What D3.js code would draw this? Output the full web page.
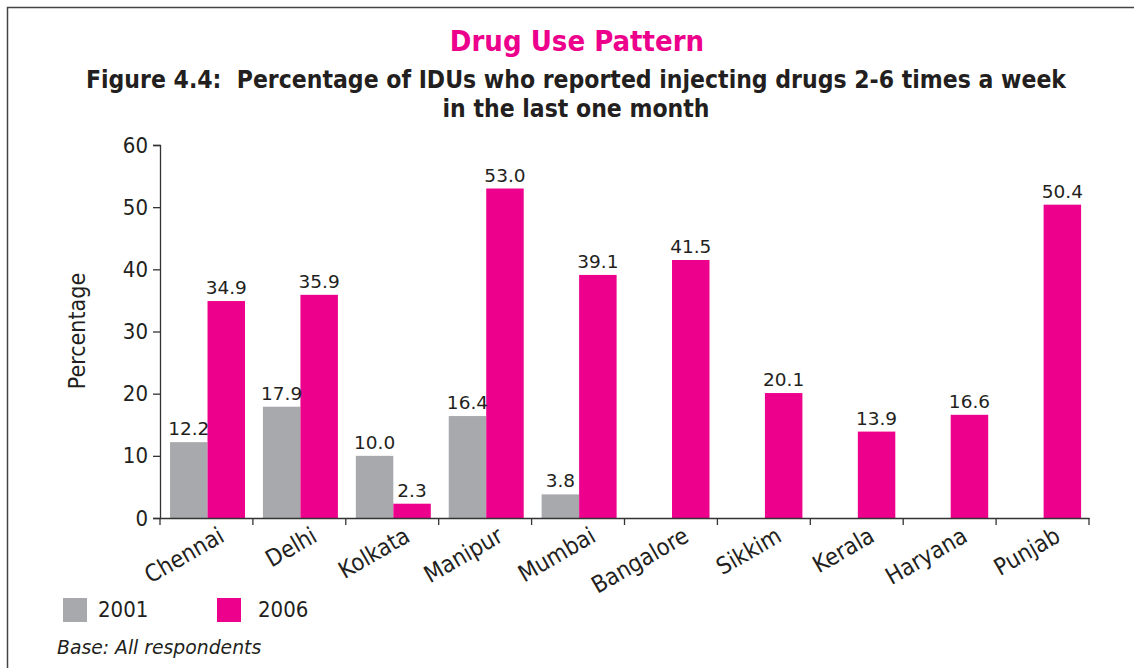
<!DOCTYPE html>
<html><head><meta charset="utf-8">
<script src="https://cdn.jsdelivr.net/npm/d3@7"></script>
<style>
html,body{margin:0;padding:0;background:#fff;}
svg{display:block;}
</style></head>
<body>
<svg id="chart" width="1134" height="668"></svg>
<script>
const categories = ["Chennai","Delhi","Kolkata","Manipur","Mumbai","Bangalore","Sikkim","Kerala","Haryana","Punjab"];
const values2001 = [12.2, 17.9, 10.0, 16.4, 3.8, null, null, null, null, null];
const values2006 = [34.9, 35.9, 2.3, 53.0, 39.1, 41.5, 20.1, 13.9, 16.6, 50.4];
const seriesNames = ["2001","2006"];
const yTicks = [0,10,20,30,40,50,60];
const colors = {"2001":"#a7a9ac","2006":"#ec008c"};
const titleText = "Drug Use Pattern";
const subtitleLines = ["Figure 4.4:  Percentage of IDUs who reported injecting drugs 2-6 times a week","in the last one month"];
const yLabel = "Percentage";
const baseNote = "Base: All respondents";

const svg = d3.select("#chart");
const font = "'DejaVu Sans Condensed','DejaVu Sans',sans-serif";
const font2 = "'DejaVu Sans',sans-serif";

// frame
svg.append("path").attr("d","M7.5,668 V7.5 H1134").attr("fill","none").attr("stroke","#444").attr("stroke-width",1.5);

const pLeft=160, pRight=1089, pTop=145, pBottom=518;
const x = d3.scaleBand().domain(categories).range([pLeft,pRight]).padding(0);
const y = d3.scaleLinear().domain([0,60]).range([pBottom,pTop]);
const bw = x.bandwidth();
const inner = d3.scaleBand().domain(seriesNames).range([bw*0.108, bw*0.915]).padding(0);

// titles
svg.append("text").attr("x",577).attr("y",51).attr("text-anchor","middle")
  .attr("font-family",font).attr("font-weight","bold").attr("font-size",29).attr("fill","#ec008c").text(titleText);
subtitleLines.forEach((t,i)=>{
  svg.append("text").attr("x",576).attr("y",88+i*29).attr("text-anchor","middle").style("white-space","pre")
   .attr("font-family",font).attr("font-weight","bold").attr("font-size",24.5).attr("fill","#231f20").text(t);
});

// bars
const data = [];
categories.forEach((c,i)=>{
  [["2001",values2001[i]],["2006",values2006[i]]].forEach(([s,v])=>{ if(v!=null) data.push({c,s,v}); });
});
const g = svg.append("g");
g.selectAll("rect").data(data).enter().append("rect")
  .attr("x",d=>x(d.c)+inner(d.s)).attr("width",inner.bandwidth())
  .attr("y",d=>y(d.v)).attr("height",d=>pBottom-y(d.v)).attr("fill",d=>colors[d.s]);
g.selectAll("text.val").data(data).enter().append("text").attr("class","val")
  .attr("x",d=>x(d.c)+inner(d.s)+inner.bandwidth()/2).attr("y",d=>y(d.v)-7)
  .attr("text-anchor","middle").attr("font-family",font2).attr("font-size",18.5).attr("fill","#231f20")
  .text(d=>d.v.toFixed(1));

// y axis
const ya = svg.append("g").attr("transform",`translate(${pLeft},0)`)
  .call(d3.axisLeft(y).tickValues(yTicks).tickSize(7).tickPadding(5).tickFormat(d3.format("d")));
ya.select(".domain").attr("stroke","#333").attr("stroke-width",1.3);
ya.selectAll(".tick line").attr("stroke","#333").attr("stroke-width",1.3);
ya.selectAll("text").attr("font-family",font).attr("font-size",22).attr("fill","#231f20");

svg.append("text").attr("transform","translate(85,331) rotate(-90)").attr("text-anchor","middle")
  .attr("font-family",font).attr("font-size",23).attr("fill","#231f20").text(yLabel);

// x axis
const xa = svg.append("g").attr("transform",`translate(0,${pBottom})`)
  .call(d3.axisBottom(x).tickSize(0).tickFormat(""));
xa.select(".domain").attr("stroke","#333").attr("stroke-width",1.3);
const boundaries = categories.map(c=>x(c)).concat([pRight]);
xa.selectAll("line.bt").data(boundaries).enter().append("line").attr("class","bt")
  .attr("x1",d=>d).attr("x2",d=>d).attr("y1",0).attr("y2",7).attr("stroke","#333").attr("stroke-width",1.3);
svg.append("g").selectAll("text").data(categories).enter().append("text")
  .attr("transform",d=>`translate(${x(d)+bw/2+11},${pBottom+8}) rotate(-30)`)
  .attr("text-anchor","end").attr("dy","0.71em")
  .attr("font-family",font).attr("font-size",23.5).attr("fill","#231f20").text(d=>d);

// legend
const lg = svg.append("g");
[[63,98,"2001"],[217,258,"2006"]].forEach(([lx,tx,s])=>{
  lg.append("rect").attr("x",lx).attr("y",598).attr("width",24).attr("height",24).attr("fill",colors[s]);
  lg.append("text").attr("x",tx).attr("y",617).attr("font-family",font).attr("font-size",22).attr("fill","#231f20").text(s);
});
svg.append("text").attr("x",57).attr("y",654).attr("font-family",font2).attr("font-style","italic")
  .attr("font-size",18.8).attr("fill","#231f20").text(baseNote);
</script>
</body></html>
